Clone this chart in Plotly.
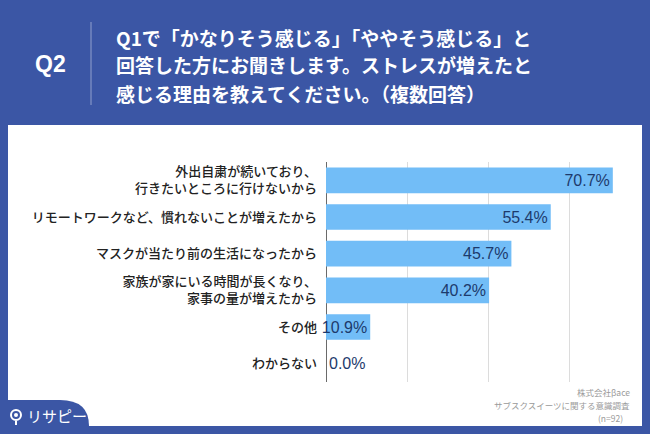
import plotly.graph_objects as go

# ---- data ----
categories = [
    "外出自粛が続いており、<br>行きたいところに行けないから",
    "リモートワークなど、慣れないことが増えたから",
    "マスクが当たり前の生活になったから",
    "家族が家にいる時間が長くなり、<br>家事の量が増えたから",
    "その他",
    "わからない",
]
values = [70.7, 55.4, 45.7, 40.2, 10.9, 0.0]

title_lines = [
    "Q1で「かなりそう感じる」「ややそう感じる」と",
    "回答した方にお聞きします。ストレスが増えたと",
    "感じる理由を教えてください。（複数回答）",
]
question_no = "Q2"
footer_lines = ["株式会社βace", "サブスクスイーツに関する意識調査", "(n=92)"]
logo_text = "リサピー"

W, H = 650, 434
BLUE = "#3b56a5"
BAR = "#72bdf7"
NAVY = "#1d3a6c"
JP = "Noto Sans CJK JP"


def px(x):
    return x / W


def py(y):
    return 1 - y / H


textpos = ["inside" if v > 5 else "outside" for v in values]

fig = go.Figure()
fig.add_trace(go.Bar(
    x=values, y=categories, orientation="h",
    marker=dict(color=BAR, line=dict(width=0)),
    texttemplate="%{x:.1f}%",
    textposition=textpos,
    insidetextanchor="end",
    constraintext="none",
    cliponaxis=False,
    textfont=dict(family="Liberation Sans, Arial", size=16, color=NAVY),
    outsidetextfont=dict(family="Liberation Sans, Arial", size=16, color=NAVY),
    insidetextfont=dict(family="Liberation Sans, Arial", size=16, color=NAVY),
    hoverinfo="skip",
))

shapes = [
    dict(type="rect", xref="paper", yref="paper", x0=px(8), x1=px(642),
         y0=py(426), y1=py(125), fillcolor="white", line=dict(width=0), layer="below"),
    dict(type="line", xref="paper", yref="paper", x0=px(91), x1=px(91),
         y0=py(22), y1=py(105), line=dict(color="rgba(255,255,255,0.45)", width=1)),
    dict(type="path", xref="paper", yref="paper",
         path=(f"M 0,{py(400)} L {px(60)},{py(400)} Q {px(89)},{py(400)} {px(89)},{py(426)} "
               f"L {px(89)},{py(434)} L 0,{py(434)} Z"),
         fillcolor=BLUE, line=dict(width=0), layer="above"),
    dict(type="circle", xref="paper", yref="paper", x0=px(11), x1=px(21),
         y0=py(420), y1=py(410), fillcolor=BLUE, line=dict(color="white", width=2)),
    dict(type="circle", xref="paper", yref="paper", x0=px(14), x1=px(18),
         y0=py(417), y1=py(413), fillcolor="white", line=dict(width=0)),
    dict(type="line", xref="paper", yref="paper", x0=px(16), x1=px(16),
         y0=py(421), y1=py(425), line=dict(color="white", width=2)),
]

annotations = [
    dict(text=f"<b>{question_no}</b>", x=px(50), y=py(64), xref="paper", yref="paper",
         xanchor="center", yanchor="middle", showarrow=False,
         font=dict(family="Liberation Sans, Arial", size=23, color="white")),
]
for i, line in enumerate(title_lines):
    annotations.append(dict(text=line, x=px(114), y=py(37 + 28 * i),
                            xref="paper", yref="paper", xanchor="left", yanchor="middle",
                            showarrow=False,
                            font=dict(family=JP, size=19, color="white", weight=600)))
for i, (line, xr) in enumerate(zip(footer_lines, [632, 632, 625])):
    annotations.append(dict(text=line, x=px(xr), y=py(392 + 13 * i), xref="paper", yref="paper",
                            xanchor="right", yanchor="middle", showarrow=False,
                            font=dict(family=JP, size=8.5, color="#9a9a9a")))
annotations.append(dict(text=logo_text, x=px(25), y=py(415), xref="paper", yref="paper",
                        xanchor="left", yanchor="middle", showarrow=False,
                        font=dict(family=JP, size=15, color="white")))

fig.update_layout(
    width=W, height=H,
    margin=dict(l=0, r=0, t=0, b=0),
    paper_bgcolor=BLUE, plot_bgcolor="rgba(0,0,0,0)",
    bargap=0.3,
    showlegend=False,
    shapes=shapes,
    annotations=annotations,
    xaxis=dict(domain=[px(326), px(640)], range=[0, 77.4], dtick=20,
               showticklabels=False, showgrid=True, gridcolor="#dcdcdc", gridwidth=1,
               zeroline=True, zerolinecolor="#6a6a6a", zerolinewidth=1, fixedrange=True),
    yaxis=dict(domain=[py(382), py(162)], autorange="reversed", type="category",
               showgrid=False, ticks="", ticklabelstandoff=8,
               tickfont=dict(family=JP, size=13, color="#222222", weight=500),
               fixedrange=True),
)

fig.write_html("out.html")
